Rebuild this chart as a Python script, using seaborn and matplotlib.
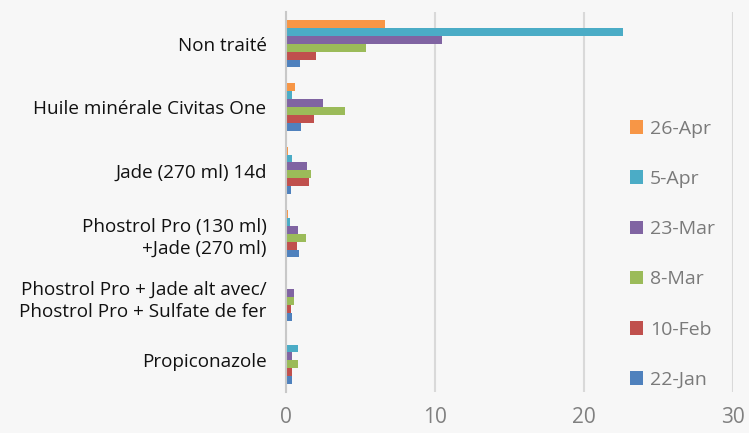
import matplotlib
matplotlib.use("Agg")
import matplotlib.pyplot as plt
import seaborn as sns
import pandas as pd
import numpy as np

categories = [
    "Non traité",
    "Huile minérale Civitas One",
    "Jade (270 ml) 14d",
    "Phostrol Pro (130 ml)\n+Jade (270 ml)",
    "Phostrol Pro + Jade alt avec/\nPhostrol Pro + Sulfate de fer",
    "Propiconazole",
]
dates = ["26-Apr", "5-Apr", "23-Mar", "8-Mar", "10-Feb", "22-Jan"]
colors = ["#F79646", "#4BACC6", "#8064A2", "#9BBB59", "#C0504D", "#4F81BD"]

v_26apr = [6.65, 0.63, 0.13, 0.13, 0.10, 0.10]
v_5apr = [22.6, 0.42, 0.42, 0.25, 0.0, 0.81]
v_23mar = [10.5, 2.5, 1.43, 0.83, 0.54, 0.42]
v_8mar = [5.36, 3.95, 1.66, 1.34, 0.54, 0.83]
v_10feb = [2.04, 1.9, 1.55, 0.72, 0.36, 0.42]
v_22jan = [0.94, 1.03, 0.34, 0.85, 0.42, 0.42]

series = [v_26apr, v_5apr, v_23mar, v_8mar, v_10feb, v_22jan]
rows = []
for d, vals in zip(dates, series):
    for c, v in zip(categories, vals):
        rows.append({"cat": c, "date": d, "val": v})
df = pd.DataFrame(rows)

sns.set_theme(style="white")
plt.rcParams["font.family"] = ["Open Sans", "DejaVu Sans"]

bg = "#f7f7f7"
fig = plt.figure(figsize=(7.49, 4.33), dpi=100, facecolor=bg)
ax = fig.add_axes([286 / 749, 1 - 392 / 433, (733 - 286) / 749, (392 - 12) / 433])
ax.set_facecolor(bg)

sns.barplot(data=df, y="cat", x="val", hue="date", hue_order=dates,
            order=categories, palette=colors, orient="h", width=0.75,
            saturation=1, ax=ax, linewidth=0, errorbar=None)

ax.set_xlim(0, 30)
ax.set_ylim(len(categories) - 0.5, -0.5)
ax.set_xticks([0, 10, 20, 30])
ax.set_xticklabels(["0", "10", "20", "30"], fontsize=15, color="#808080")
ax.xaxis.grid(True, color="#d9d9d9", linewidth=1.5)
ax.set_axisbelow(True)
ax.tick_params(axis="x", length=0, pad=11)
ax.tick_params(axis="y", length=0, pad=14, labelsize=13.6, labelcolor="#111111")
ax.set_yticks(range(len(categories)))
ax.set_yticklabels(categories, ha="right", multialignment="right", linespacing=1.3)
ax.set_yticks(np.arange(-0.5, len(categories), 1), minor=True)
ax.tick_params(axis="y", which="minor", length=5, color="#bbbbbb", width=1.2)
ax.set_xlabel("")
ax.set_ylabel("")
for s in ["top", "right", "bottom"]:
    ax.spines[s].set_visible(False)
ax.spines["left"].set_color("#c8c8c8")
ax.spines["left"].set_linewidth(1.5)

handles, labels = ax.get_legend_handles_labels()
leg = ax.legend(handles, labels, loc="upper left", bbox_to_anchor=(616 / 749, 1 - 106 / 433),
                bbox_transform=fig.transFigure, frameon=True, fontsize=14,
                labelspacing=1.66, handlelength=0.7, handleheight=0.7, handletextpad=0.35,
                borderpad=0.2, labelcolor="#7a7a7a")
leg.get_frame().set_facecolor(bg)
leg.get_frame().set_edgecolor(bg)
leg.get_frame().set_alpha(1)

fig.savefig("out.png", dpi=100, facecolor=bg)
